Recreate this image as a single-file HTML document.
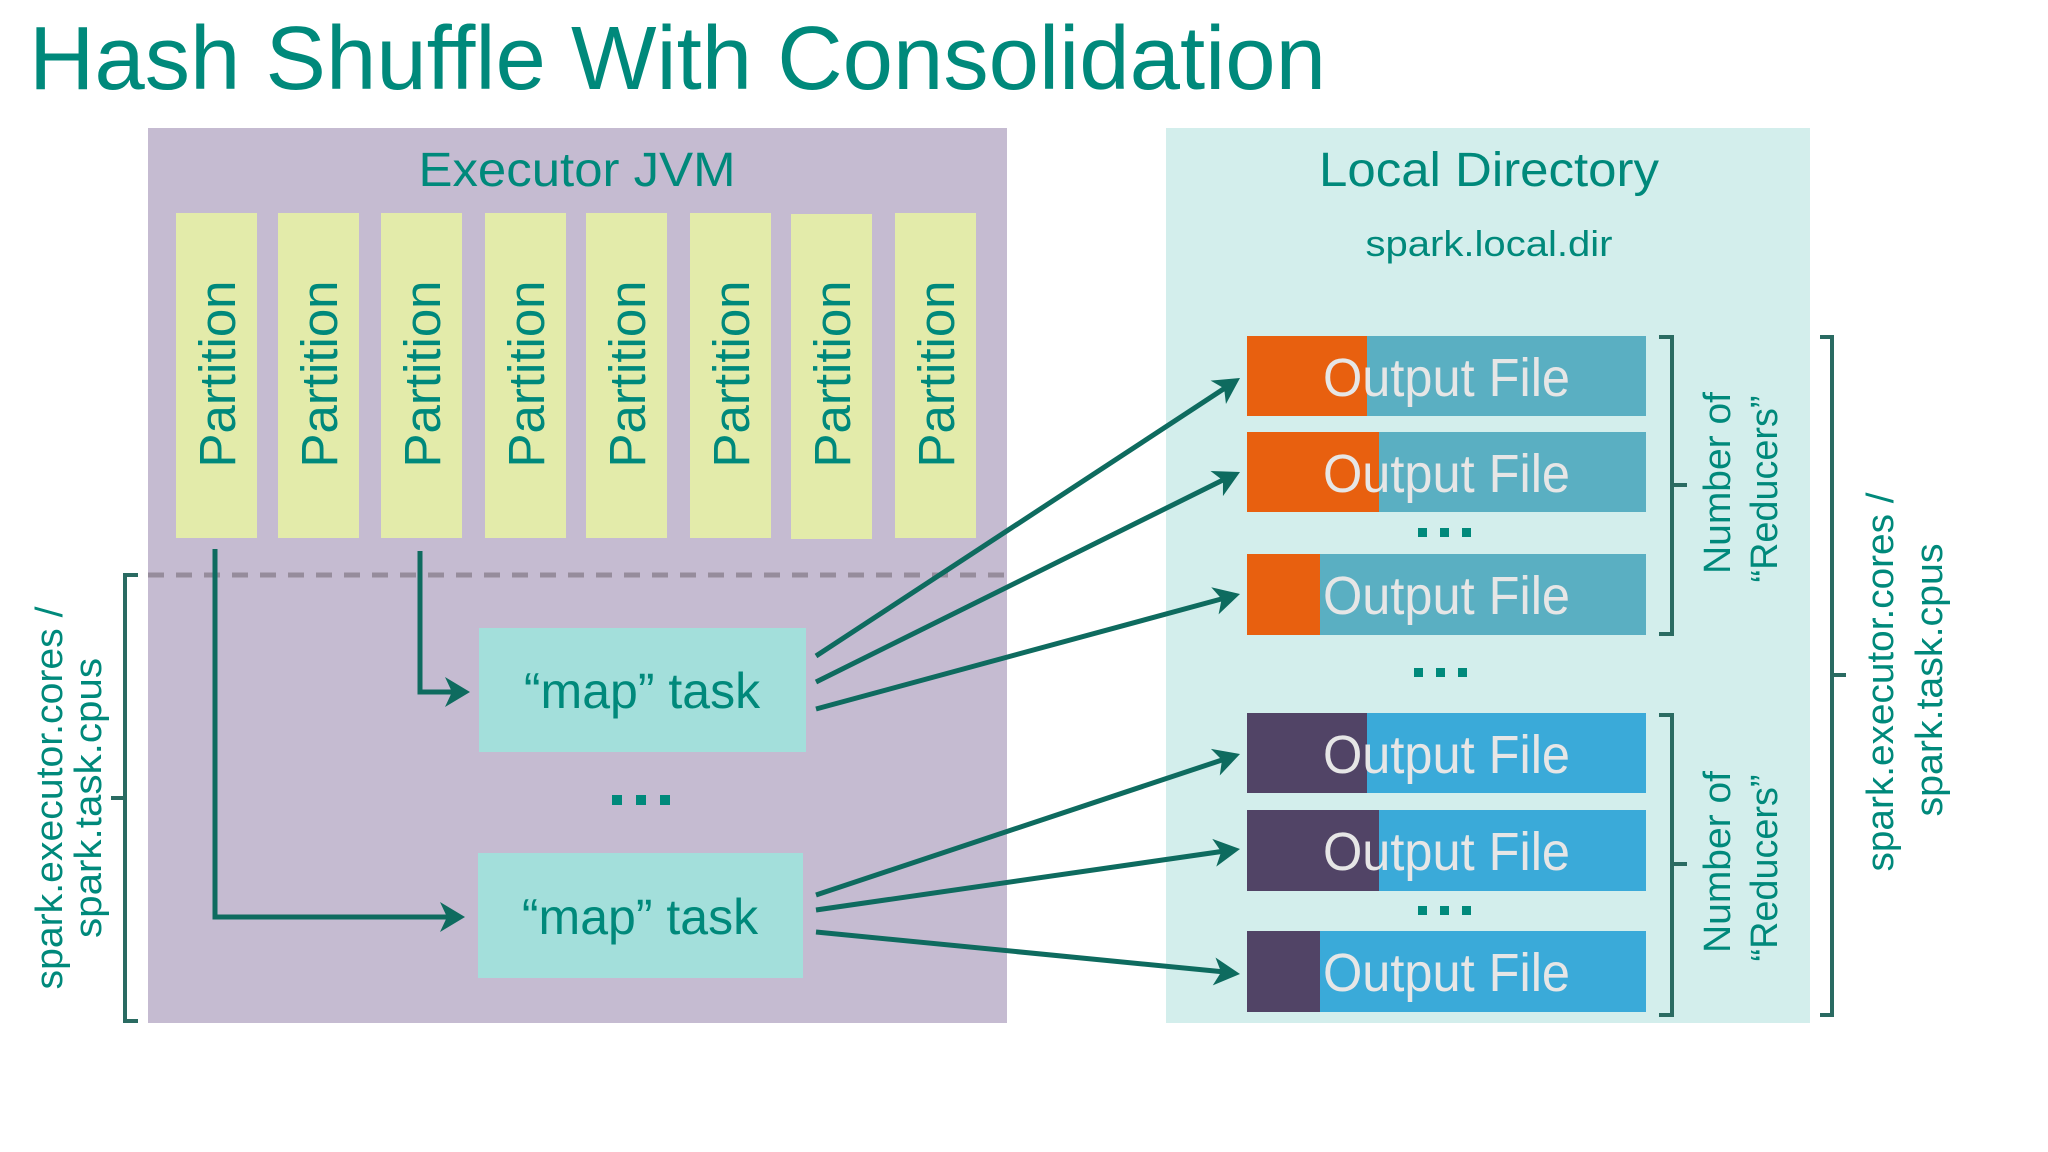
<!DOCTYPE html>
<html><head><meta charset="utf-8"><style>
html,body{margin:0;padding:0;background:#fff;}
svg{display:block;}
text{font-family:"Liberation Sans",Arial,sans-serif;}
</style></head><body>
<svg width="2048" height="1152" viewBox="0 0 2048 1152" xmlns="http://www.w3.org/2000/svg">
<rect width="2048" height="1152" fill="#fff"/>
<text x="29" y="89" font-size="90" fill="#00897b" textLength="1297" lengthAdjust="spacingAndGlyphs">Hash Shuffle With Consolidation</text>

<!-- Executor JVM -->
<rect x="148" y="128" width="859" height="895" fill="#c5bbd1"/>
<text x="577" y="186" font-size="48" fill="#00897b" text-anchor="middle" textLength="317" lengthAdjust="spacingAndGlyphs">Executor JVM</text>
<g fill="#e3ebaa">
<rect x="176" y="213" width="81" height="325"/>
<rect x="278" y="213" width="81" height="325"/>
<rect x="381" y="213" width="81" height="325"/>
<rect x="485" y="213" width="81" height="325"/>
<rect x="586" y="213" width="81" height="325"/>
<rect x="690" y="213" width="81" height="325"/>
<rect x="791" y="214" width="81" height="325"/>
<rect x="895" y="213" width="81" height="325"/>
</g>
<g fill="#00897b" font-size="51" text-anchor="middle">
<text transform="translate(235,374) rotate(-90)">Partition</text>
<text transform="translate(337,374) rotate(-90)">Partition</text>
<text transform="translate(440,374) rotate(-90)">Partition</text>
<text transform="translate(544,374) rotate(-90)">Partition</text>
<text transform="translate(645,374) rotate(-90)">Partition</text>
<text transform="translate(749,374) rotate(-90)">Partition</text>
<text transform="translate(850,374) rotate(-90)">Partition</text>
<text transform="translate(954,374) rotate(-90)">Partition</text>
</g>
<line x1="148" y1="575" x2="1007" y2="575" stroke="#968c9c" stroke-width="5" stroke-dasharray="16,12"/>

<rect x="479" y="628" width="327" height="124" fill="#a3dfdb"/>
<rect x="478" y="853" width="325" height="125" fill="#a3dfdb"/>
<text x="642" y="708" font-size="50" fill="#00897b" text-anchor="middle">“map” task</text>
<text x="640" y="934" font-size="50" fill="#00897b" text-anchor="middle">“map” task</text>
<g fill="#00897b">
<rect x="612" y="795" width="10" height="10"/><rect x="636" y="795" width="10" height="10"/><rect x="660" y="795" width="10" height="10"/>
</g>

<g stroke="#0e6b5f" stroke-width="5" fill="none">
<polyline points="215,549 215,917 455,917"/>
<polyline points="420,551 420,692 460,692"/>
</g>
<g fill="#0e6b5f">
<polygon points="470,692 445,677 452,692 445,707"/>
<polygon points="465,917 440,902 447,917 440,932"/>
</g>

<!-- Local directory -->
<rect x="1166" y="128" width="644" height="895" fill="#d3eeec"/>
<text x="1489" y="186" font-size="48" fill="#00897b" text-anchor="middle" textLength="340" lengthAdjust="spacingAndGlyphs">Local Directory</text>
<text x="1489" y="256" font-size="36" fill="#00897b" text-anchor="middle" textLength="247" lengthAdjust="spacingAndGlyphs">spark.local.dir</text>

<rect x="1247" y="336" width="399" height="80" fill="#5aafc2"/><rect x="1247" y="336" width="120" height="80" fill="#e8600f"/>
<rect x="1247" y="432" width="399" height="80" fill="#5aafc2"/><rect x="1247" y="432" width="132" height="80" fill="#e8600f"/>
<rect x="1247" y="554" width="399" height="81" fill="#5aafc2"/><rect x="1247" y="554" width="73" height="81" fill="#e8600f"/>
<rect x="1247" y="713" width="399" height="80" fill="#3aaad9"/><rect x="1247" y="713" width="120" height="80" fill="#514466"/>
<rect x="1247" y="810" width="399" height="81" fill="#3aaad9"/><rect x="1247" y="810" width="132" height="81" fill="#514466"/>
<rect x="1247" y="931" width="399" height="81" fill="#3aaad9"/><rect x="1247" y="931" width="73" height="81" fill="#514466"/>
<g fill="#e6e6e6" font-size="54">
<text x="1323" y="396" textLength="247" lengthAdjust="spacingAndGlyphs">Output File</text>
<text x="1323" y="492" textLength="247" lengthAdjust="spacingAndGlyphs">Output File</text>
<text x="1323" y="614" textLength="247" lengthAdjust="spacingAndGlyphs">Output File</text>
<text x="1323" y="773" textLength="247" lengthAdjust="spacingAndGlyphs">Output File</text>
<text x="1323" y="870" textLength="247" lengthAdjust="spacingAndGlyphs">Output File</text>
<text x="1323" y="991" textLength="247" lengthAdjust="spacingAndGlyphs">Output File</text>
</g>
<g fill="#00897b">
<rect x="1418" y="528" width="9" height="9"/><rect x="1440" y="528" width="9" height="9"/><rect x="1462" y="528" width="9" height="9"/>
<rect x="1414" y="668" width="9" height="9"/><rect x="1436" y="668" width="9" height="9"/><rect x="1458" y="668" width="9" height="9"/>
<rect x="1418" y="906" width="9" height="9"/><rect x="1440" y="906" width="9" height="9"/><rect x="1462" y="906" width="9" height="9"/>
</g>

<g stroke="#0e6b5f" stroke-width="5">
<line x1="816" y1="656" x2="1225" y2="388"/>
<line x1="816" y1="682" x2="1225" y2="479"/>
<line x1="816" y1="709" x2="1225" y2="598"/>
<line x1="816" y1="895" x2="1225" y2="759"/>
<line x1="816" y1="910" x2="1225" y2="851"/>
<line x1="816" y1="932" x2="1225" y2="972"/>
</g>
<g fill="#0e6b5f">
<polygon points="0,0 -26,-14 -19,0 -26,14" transform="translate(1240,378) rotate(-33.3)"/>
<polygon points="0,0 -26,-14 -19,0 -26,14" transform="translate(1240,472) rotate(-26.4)"/>
<polygon points="0,0 -26,-14 -19,0 -26,14" transform="translate(1240,594) rotate(-15.2)"/>
<polygon points="0,0 -26,-14 -19,0 -26,14" transform="translate(1240,754) rotate(-18.4)"/>
<polygon points="0,0 -26,-14 -19,0 -26,14" transform="translate(1240,849) rotate(-8.2)"/>
<polygon points="0,0 -26,-14 -19,0 -26,14" transform="translate(1240,974) rotate(5.6)"/>
</g>

<g stroke="#2a6b62" stroke-width="4" fill="none">
<polyline points="138,575 125,575 125,1021 138,1021"/><line x1="125" y1="798" x2="111" y2="798"/>
<polyline points="1659,337 1672,337 1672,634 1659,634"/><line x1="1672" y1="485" x2="1687" y2="485"/>
<polyline points="1659,715 1672,715 1672,1015 1659,1015"/><line x1="1672" y1="864" x2="1687" y2="864"/>
<polyline points="1820,337 1832,337 1832,1015 1820,1015"/><line x1="1832" y1="675" x2="1846" y2="675"/>
</g>
<g fill="#00897b" font-size="38" text-anchor="middle">
<text transform="translate(62,798) rotate(-90)" textLength="383" lengthAdjust="spacingAndGlyphs">spark.executor.cores /</text>
<text transform="translate(101,798) rotate(-90)" textLength="280" lengthAdjust="spacingAndGlyphs">spark.task.cpus</text>
<text transform="translate(1730,483) rotate(-90)" textLength="182" lengthAdjust="spacingAndGlyphs">Number of</text>
<text transform="translate(1777,489) rotate(-90)" textLength="187" lengthAdjust="spacingAndGlyphs">“Reducers”</text>
<text transform="translate(1730,862) rotate(-90)" textLength="182" lengthAdjust="spacingAndGlyphs">Number of</text>
<text transform="translate(1777,868) rotate(-90)" textLength="187" lengthAdjust="spacingAndGlyphs">“Reducers”</text>
<text transform="translate(1893,682) rotate(-90)" textLength="379" lengthAdjust="spacingAndGlyphs">spark.executor.cores /</text>
<text transform="translate(1942,680) rotate(-90)" textLength="273" lengthAdjust="spacingAndGlyphs">spark.task.cpus</text>
</g>
</svg>
</body></html>
